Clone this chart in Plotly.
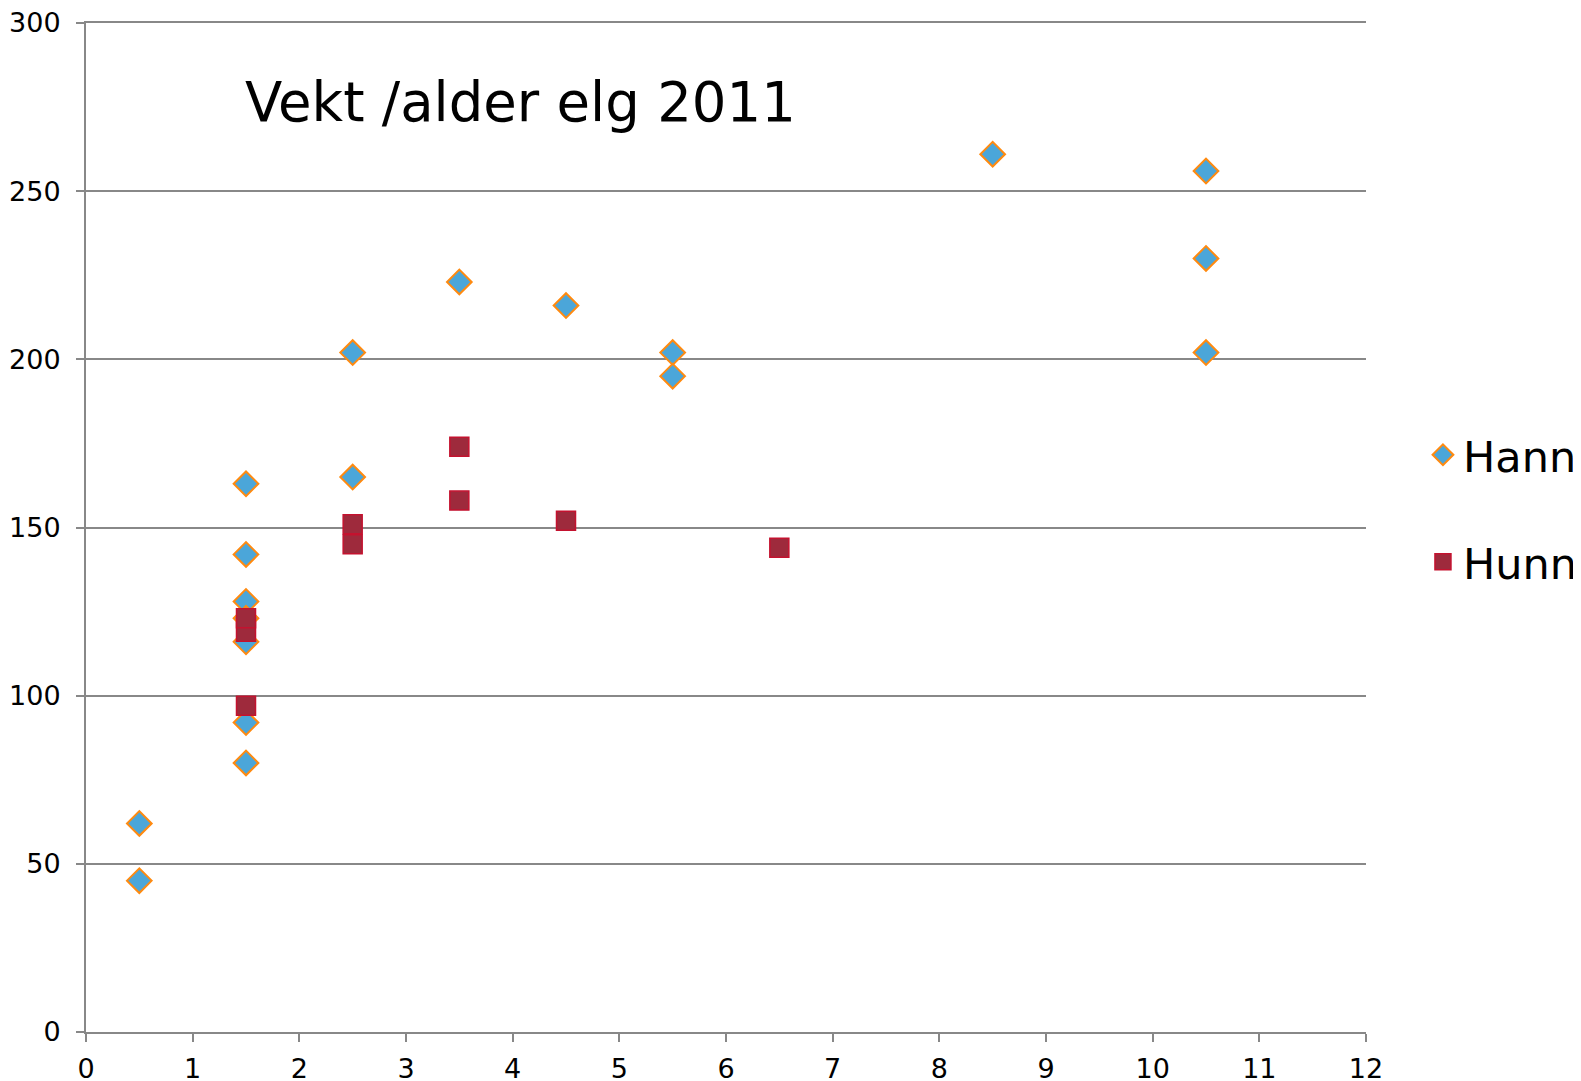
import plotly.graph_objects as go

# Data
hann_age = [0.5, 0.5, 1.5, 1.5, 1.5, 1.5, 1.5, 1.5, 1.5, 2.5, 2.5, 3.5, 4.5, 5.5, 5.5, 8.5, 10.5, 10.5, 10.5]
hann_weight = [62, 45, 163, 142, 128, 123, 116, 92, 80, 202, 165, 223, 216, 202, 195, 261, 256, 230, 202]

hunn_age = [1.5, 1.5, 1.5, 2.5, 2.5, 3.5, 3.5, 4.5, 6.5]
hunn_weight = [119, 123, 97, 145, 151, 174, 158, 152, 144]

title_text = "Vekt /alder elg 2011"
x_ticks = list(range(0, 13))
y_ticks = list(range(0, 301, 50))

FONT = "DejaVu Sans, Verdana, sans-serif"
GRID = "#888888"

fig = go.Figure()
fig.add_trace(go.Scatter(
    x=hann_age, y=hann_weight, mode="markers", name="Hann",
    marker=dict(symbol="diamond", size=19, color="#4BA6D9",
                line=dict(color="#FF8A10", width=2)),
    legend="legend",
))
fig.add_trace(go.Scatter(
    x=hunn_age, y=hunn_weight, mode="markers", name="Hunn",
    marker=dict(symbol="square", size=19, color="#9E2A3C",
                line=dict(color="#C4122F", width=1.5)),
    legend="legend2",
))

fig.update_layout(
    width=1581, height=1081,
    margin=dict(l=78, r=223, t=15, b=57, autoexpand=False),
    paper_bgcolor="white", plot_bgcolor="white",
    font=dict(family=FONT, color="black"),
    showlegend=True,
    legend=dict(x=1.0445, y=0.572, xanchor="left", yanchor="middle",
                font=dict(size=43, family=FONT, color="black"),
                bgcolor="rgba(0,0,0,0)", borderwidth=0),
    legend2=dict(x=1.0445, y=0.466, xanchor="left", yanchor="middle",
                 font=dict(size=43, family=FONT, color="black"),
                 bgcolor="rgba(0,0,0,0)", borderwidth=0),
    annotations=[dict(
        text=title_text, xref="paper", yref="paper", x=0.1225, y=0.9215,
        xanchor="left", yanchor="middle", showarrow=False,
        font=dict(size=54.5, family=FONT, color="black"),
    )],
    xaxis=dict(
        range=[0, 12], tickvals=x_ticks, ticktext=[str(v) for v in x_ticks],
        automargin=False, ticklabeloverflow="allow",
        showgrid=False, zeroline=False, showline=True, linecolor=GRID, linewidth=2,
        mirror=True,
        ticks="outside", ticklen=8, tickwidth=2, tickcolor=GRID,
        ticklabelstandoff=4,
        tickfont=dict(size=27, family=FONT, color="black"),
    ),
    yaxis=dict(
        range=[0, 300], tickvals=y_ticks, ticktext=[str(v) for v in y_ticks],
        automargin=False, ticklabeloverflow="allow",
        showgrid=True, gridcolor=GRID, gridwidth=2,
        zeroline=False, showline=True, linecolor=GRID, linewidth=2,
        ticks="outside", ticklen=8, tickwidth=2, tickcolor=GRID,
        ticklabelstandoff=10,
        tickfont=dict(size=27, family=FONT, color="black"),
    ),
)

fig.write_html("out.html")
